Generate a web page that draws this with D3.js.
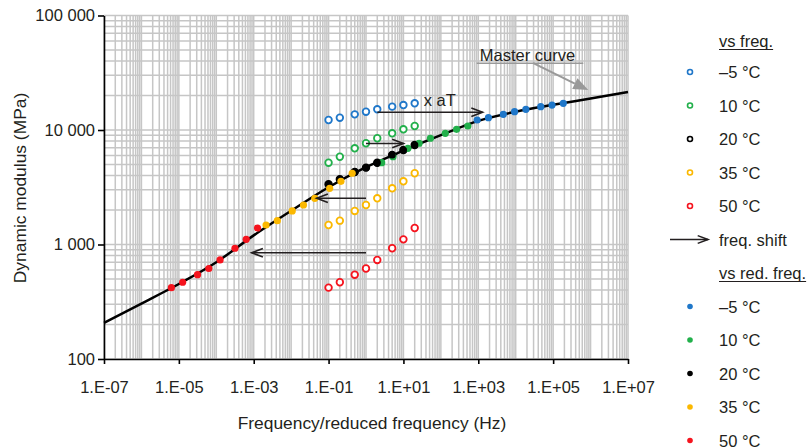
<!DOCTYPE html>
<html>
<head>
<meta charset="utf-8">
<script src="https://cdn.jsdelivr.net/npm/d3@7"></script>
<style>
body { margin: 0; background: #fff; }
text { font-family: "Liberation Sans", Arial, Helvetica, sans-serif; fill: #231f20; }
</style>
</head>
<body>
<div id="chart"></div>
<script>
// test frequencies (Hz) and measured moduli (MPa)
const freqs = [0.1, 0.2, 0.5, 1, 2, 5, 10, 20];
const temps = ["\u20135 \u00b0C", "10 \u00b0C", "20 \u00b0C", "35 \u00b0C", "50 \u00b0C"];
const tempColors = ["#1f77c9", "#22b04b", "#000000", "#fbb800", "#f5141e"];
const logShift = [3.97, 1.42, 0, -1.67, -4.2]; // log10(aT)
const modulusM5 = [12230, 12800, 13700, 14450, 15170, 16000, 16520, 17100];
const modulus10 = [5180, 5840, 6920, 7660, 8470, 9360, 10140, 10840];
const modulus20 = [3360, 3710, 4300, 4690, 5180, 6050, 6680, 7400];
const modulus35 = [1480, 1615, 1963, 2213, 2531, 3096, 3565, 4189];
const modulus50 = [420, 468, 545, 617, 733, 927, 1109, 1393];
const moduli = [modulusM5, modulus10, modulus20, modulus35, modulus50];

// master curve
const curveFreq = [1e-7, 1e-6, 1e-5, 1e-4, 1e-3, 1e-2, 1e-1, 1, 1e1, 1e2, 1e3, 1e4, 1e5, 1e6, 1e7];
const curveModulus = [207, 305, 452, 700, 1202, 1972, 3162, 4732, 6607, 9016, 12023, 14454, 16596, 18836, 21478];

// shift arrows: [from Hz, to Hz, modulus]
const shiftArrows = [[2, 1300, 14300], [1, 10, 7620], [1, 0.048, 2531], [1, 0.00088, 848]];

const xTicks = [1e-7, 1e-5, 1e-3, 1e-1, 1e1, 1e3, 1e5, 1e7];
const xTickLabels = ["1.E-07", "1.E-05", "1.E-03", "1.E-01", "1.E+01", "1.E+03", "1.E+05", "1.E+07"];
const yTicks = [100, 1000, 10000, 100000];
const yTickLabels = ["100", "1 000", "10 000", "100 000"];

const margin = { top: 15.5, right: 179, bottom: 89, left: 104 };
const W = 807, H = 448;
const width = W - margin.left - margin.right;
const height = H - margin.top - margin.bottom;
const fontSize = "16.5px";
const titleSize = "17.4px";

const svg = d3.select("#chart")
    .append("svg")
    .attr("width", W)
    .attr("height", H);

const g = svg.append("g")
    .attr("transform", `translate(${margin.left},${margin.top})`);

const xScale = d3.scaleLog().domain([1e-7, 1e7]).range([0, width]);
const yScale = d3.scaleLog().domain([100, 100000]).range([height, 0]);

// log grid, 1..9 in every decade
const xGrid = [];
for (let e = -7; e < 7; e++) for (let m = 1; m < 10; m++) xGrid.push(m * Math.pow(10, e));
xGrid.push(1e7);
const yGrid = [];
for (let e = 2; e < 5; e++) for (let m = 1; m < 10; m++) yGrid.push(m * Math.pow(10, e));
yGrid.push(1e5);

g.selectAll(".vGrid")
    .data(xGrid)
    .enter().append("line")
    .attr("class", "vGrid")
    .attr("x1", d => xScale(d))
    .attr("x2", d => xScale(d))
    .attr("y1", 0)
    .attr("y2", height)
    .attr("stroke", "#c6c6c6")
    .attr("stroke-width", 1.5);

g.selectAll(".hGrid")
    .data(yGrid)
    .enter().append("line")
    .attr("class", "hGrid")
    .attr("x1", 0)
    .attr("x2", width)
    .attr("y1", d => yScale(d))
    .attr("y2", d => yScale(d))
    .attr("stroke", "#c6c6c6")
    .attr("stroke-width", 1.5);

// axes
const xAxis = g.append("g")
    .attr("transform", `translate(0,${height})`)
    .call(d3.axisBottom(xScale).tickValues(xTicks)
        .tickFormat((d, i) => xTickLabels[i])
        .tickSize(5).tickSizeOuter(0).tickPadding(17));
const yAxis = g.append("g")
    .call(d3.axisLeft(yScale).tickValues(yTicks)
        .tickFormat((d, i) => yTickLabels[i])
        .tickSize(6).tickSizeOuter(0).tickPadding(3));

[xAxis, yAxis].forEach(a => {
    a.attr("font-family", null).attr("font-size", null);
    a.selectAll("path, line").attr("stroke", "#000").attr("stroke-width", 1.6);
    a.selectAll("text").style("font-size", fontSize).attr("fill", "#231f20");
});

svg.append("text")
    .attr("x", margin.left + width / 2 + 6)
    .attr("y", 429)
    .attr("text-anchor", "middle")
    .style("font-size", titleSize)
    .text("Frequency/reduced frequency (Hz)");

svg.append("text")
    .attr("transform", "translate(26,188) rotate(-90)")
    .attr("text-anchor", "middle")
    .style("font-size", titleSize)
    .text("Dynamic modulus (MPa)");

// master curve
const curveData = curveFreq.map((f, i) => ({ f: f, E: curveModulus[i] }));
g.append("path")
    .datum(curveData)
    .attr("fill", "none")
    .attr("stroke", "#000")
    .attr("stroke-width", 2.5)
    .attr("d", d3.line().x(d => xScale(d.f)).y(d => yScale(d.E)).curve(d3.curveMonotoneX));

// open points vs freq., filled points vs reduced freq.
temps.forEach((t, i) => {
    const pts = freqs.map((f, j) => ({ f: f, E: moduli[i][j] }));
    g.selectAll(".open" + i)
        .data(pts)
        .enter().append("circle")
        .attr("class", "open" + i)
        .attr("cx", d => xScale(d.f))
        .attr("cy", d => yScale(d.E))
        .attr("r", 3.3)
        .attr("fill", "#fff")
        .attr("stroke", tempColors[i])
        .attr("stroke-width", 1.8);
});
temps.forEach((t, i) => {
    const aT = Math.pow(10, logShift[i]);
    const pts = freqs.map((f, j) => ({ f: f * aT, E: moduli[i][j] }));
    g.selectAll(".filled" + i)
        .data(pts)
        .enter().append("circle")
        .attr("class", "filled" + i)
        .attr("cx", d => xScale(d.f))
        .attr("cy", d => yScale(d.E))
        .attr("r", 3.6)
        .attr("fill", tempColors[i]);
});

function openArrow(sel, x1, y1, x2, y2, color, len) {
    const ang = Math.atan2(y2 - y1, x2 - x1);
    const a1 = ang + Math.PI - 0.36, a2 = ang + Math.PI + 0.36;
    sel.append("line")
        .attr("x1", x1).attr("y1", y1).attr("x2", x2).attr("y2", y2)
        .attr("stroke", color).attr("stroke-width", 1.6);
    sel.append("path")
        .attr("d", `M${x2 + len * Math.cos(a1)},${y2 + len * Math.sin(a1)}L${x2},${y2}L${x2 + len * Math.cos(a2)},${y2 + len * Math.sin(a2)}`)
        .attr("fill", "none").attr("stroke", color).attr("stroke-width", 1.6);
}

shiftArrows.forEach(a => {
    openArrow(g, xScale(a[0]), yScale(a[2]), xScale(a[1]), yScale(a[2]), "#231f20", 12);
});

g.append("text")
    .attr("x", xScale(35))
    .attr("y", yScale(14300) - 6)
    .style("font-size", fontSize)
    .text("x aT");

// master curve label
const mcY = yScale(38300);
g.append("text")
    .attr("x", xScale(1100))
    .attr("y", mcY - 2.5)
    .style("font-size", fontSize)
    .text("Master curve");
g.append("line")
    .attr("x1", xScale(906)).attr("x2", xScale(6.4e5))
    .attr("y1", mcY).attr("y2", mcY)
    .attr("stroke", "#999").attr("stroke-width", 1.5);
{
    const x1 = xScale(2.95e4), y1 = mcY, x2 = xScale(8.7e5), y2 = yScale(22300);
    const ang = Math.atan2(y2 - y1, x2 - x1);
    const hl = 15, hw = 6;
    const bx = x2 - hl * Math.cos(ang), by = y2 - hl * Math.sin(ang);
    g.append("line")
        .attr("x1", x1).attr("y1", y1).attr("x2", bx).attr("y2", by)
        .attr("stroke", "#999").attr("stroke-width", 2);
    g.append("path")
        .attr("d", `M${x2},${y2}L${bx + hw * Math.sin(ang)},${by - hw * Math.cos(ang)}L${bx - hw * Math.sin(ang)},${by + hw * Math.cos(ang)}Z`)
        .attr("fill", "#999");
}

// legend
const legend = svg.append("g");
const legX = 690, legTextX = 719, legStep = 33.5, legTop = 72;

function legendHeader(label, yy) {
    const t = legend.append("text")
        .attr("x", legTextX).attr("y", yy + 6)
        .style("font-size", fontSize)
        .text(label);
    const w = t.node().getComputedTextLength();
    legend.append("line")
        .attr("x1", legTextX).attr("x2", legTextX + w)
        .attr("y1", yy + 8.5).attr("y2", yy + 8.5)
        .attr("stroke", "#231f20").attr("stroke-width", 1);
}

legendHeader("vs freq.", 41);
temps.forEach((t, i) => {
    const yy = legTop + i * legStep;
    legend.append("circle")
        .attr("cx", legX).attr("cy", yy).attr("r", 2.5)
        .attr("fill", "#fff").attr("stroke", tempColors[i]).attr("stroke-width", 1.6);
    legend.append("text")
        .attr("x", legTextX).attr("y", yy + 6)
        .style("font-size", fontSize)
        .text(t);
});
{
    const yy = legTop + 5 * legStep;
    openArrow(legend, 670, yy, 708, yy, "#231f20", 11);
    legend.append("text")
        .attr("x", legTextX).attr("y", yy + 6)
        .style("font-size", fontSize)
        .text("freq. shift");
}
legendHeader("vs red. freq.", legTop + 6 * legStep);
temps.forEach((t, i) => {
    const yy = legTop + (7 + i) * legStep;
    legend.append("circle")
        .attr("cx", legX).attr("cy", yy).attr("r", 2.8)
        .attr("fill", tempColors[i]);
    legend.append("text")
        .attr("x", legTextX).attr("y", yy + 6)
        .style("font-size", fontSize)
        .text(t);
});
</script>
</body>
</html>
